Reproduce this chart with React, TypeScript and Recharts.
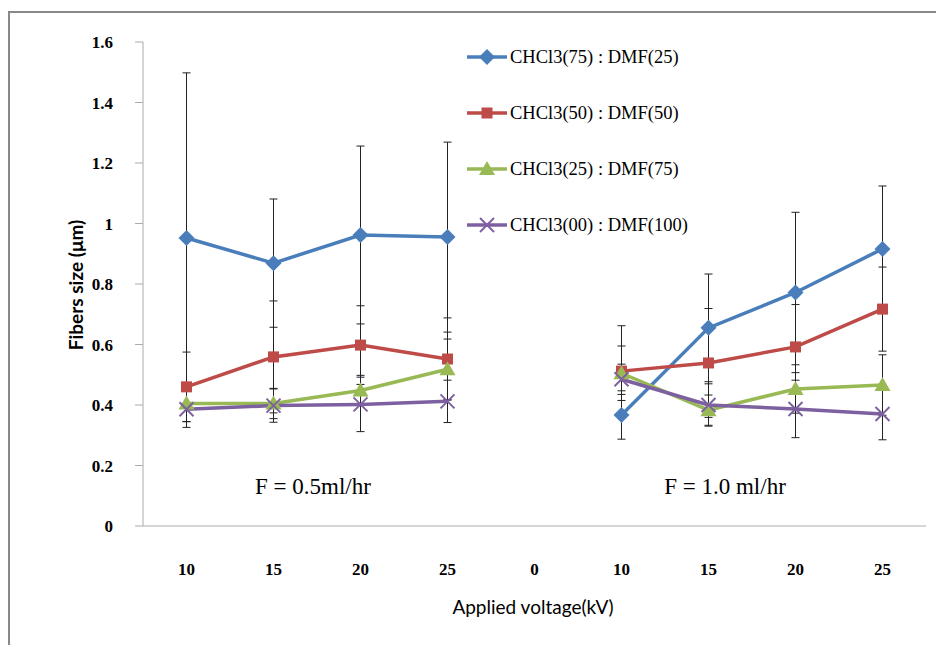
import React from 'react';
import { LineChart, Line, XAxis, YAxis, ErrorBar } from 'recharts';

const categories = ['10', '15', '20', '25', '0', '10', '15', '20', '25'];
const seriesNames = ['CHCl3(75) : DMF(25)', 'CHCl3(50) : DMF(50)', 'CHCl3(25) : DMF(75)', 'CHCl3(00) : DMF(100)'];
const blueVals = [0.952, 0.869, 0.962, 0.955, null, 0.367, 0.655, 0.772, 0.916];
const blueErr = [0.546, 0.212, 0.294, 0.314, null, 0.08, 0.178, 0.265, 0.208];
const redVals = [0.46, 0.559, 0.598, 0.552, null, 0.512, 0.539, 0.592, 0.717];
const redErr = [0.115, 0.185, 0.13, 0.136, null, 0.15, 0.18, 0.14, 0.139];
const greenVals = [0.405, 0.405, 0.448, 0.518, null, 0.505, 0.383, 0.453, 0.466];
const greenErr = [0.06, 0.05, 0.05, 0.1, null, 0.09, 0.05, 0.08, 0.1];
const purpleVals = [0.386, 0.398, 0.402, 0.412, null, 0.485, 0.4, 0.387, 0.37];
const purpleErr = [0.06, 0.055, 0.09, 0.07, null, 0.05, 0.07, 0.095, 0.085];
const yTicks = [0, 0.2, 0.4, 0.6, 0.8, 1, 1.2, 1.4, 1.6];
const annotations = ['F = 0.5ml/hr', 'F = 1.0 ml/hr'];

const COLORS = ['#4A7EBB', '#BE4B48', '#98B954', '#7D60A0'];
const SERIF = '"Liberation Serif", "Times New Roman", serif';
const SANS = 'Lato, "Liberation Sans", sans-serif';

const data = categories.map((c, i) => ({
  cat: c,
  blue: blueVals[i], blueErr: blueErr[i],
  red: redVals[i], redErr: redErr[i],
  green: greenVals[i], greenErr: greenErr[i],
  purple: purpleVals[i], purpleErr: purpleErr[i],
}));

function Marker({ kind, cx, cy, color }: any) {
  if (kind === 0) {
    const r = 8;
    return <polygon points={`${cx},${cy - r} ${cx + r},${cy} ${cx},${cy + r} ${cx - r},${cy}`} fill={color} />;
  }
  if (kind === 1) {
    return <rect x={cx - 5.5} y={cy - 5.5} width={11} height={11} fill={color} />;
  }
  if (kind === 2) {
    return <polygon points={`${cx},${cy - 8} ${cx + 8},${cy + 6} ${cx - 8},${cy + 6}`} fill={color} />;
  }
  const r = 7;
  return (
    <g stroke={color} strokeWidth={2}>
      <line x1={cx - r} y1={cy - r} x2={cx + r} y2={cy + r} />
      <line x1={cx - r} y1={cy + r} x2={cx + r} y2={cy - r} />
    </g>
  );
}

const makeDot = (kind: number) => (props: any) => {
  const { cx, cy, index, value } = props;
  if (cx == null || cy == null || value == null || Number.isNaN(cy)) return <g key={`d${kind}-${index}`} />;
  return (
    <g key={`d${kind}-${index}`}>
      <Marker kind={kind} cx={cx} cy={cy} color={COLORS[kind]} />
    </g>
  );
};

const XTick = (props: any) => {
  const { x, y, payload } = props;
  return (
    <text x={x} y={y + 49} textAnchor="middle" fontFamily={SERIF} fontWeight="bold" fontSize={17} fill="#000">
      {payload.value}
    </text>
  );
};

const YTick = (props: any) => {
  const { x, y, payload } = props;
  return (
    <text x={x} y={y + 6} textAnchor="end" fontFamily={SERIF} fontWeight="bold" fontSize={17} fill="#000">
      {payload.value}
    </text>
  );
};

const LegendBox = () => (
  <svg width={270} height={210} style={{ position: 'absolute', left: 465, top: 42 }}>
    {seriesNames.map((n, i) => {
      const cy = 15 + i * 56;
      return (
        <g key={n}>
          <line x1={2} y1={cy} x2={42} y2={cy} stroke={COLORS[i]} strokeWidth={3.5} />
          <Marker kind={i} cx={22} cy={cy} color={COLORS[i]} />
          <text x={45} y={cy + 6} fontFamily={SERIF} fontSize={18.5} fill="#000">{n}</text>
        </g>
      );
    })}
  </svg>
);

export default function App() {
  const keys = ['blue', 'red', 'green', 'purple'];
  return (
    <div style={{ position: 'absolute', left: 0, top: 0, width: 936, height: 645, background: '#fff' }}>
      <div style={{ position: 'absolute', left: 8, top: 11, width: 928, height: 634, boxSizing: 'border-box', borderLeft: '2px solid #888', borderTop: '2px solid #888' }} />
      <div style={{ position: 'absolute', left: 0, top: 0 }}>
        <LineChart width={936} height={645} data={data} margin={{ top: 42, right: 10, bottom: 89, left: 83 }}>
          <XAxis dataKey="cat" padding={{ left: 43.5, right: 43.5 }} stroke="#ABABAB" tickLine={false} tickSize={0} tickMargin={0} tick={<XTick />} height={30} interval={0} />
          <YAxis domain={[0, 1.6]} ticks={yTicks} stroke="#ABABAB" tickSize={8} tickMargin={22} tick={<YTick />} width={60} interval={0} />
          {keys.map((k, i) => (
            <Line
              key={k}
              dataKey={k}
              name={seriesNames[i]}
              stroke={COLORS[i]}
              strokeWidth={3.5}
              dot={makeDot(i)}
              activeDot={false}
              isAnimationActive={false}
              connectNulls={false}
            >
              <ErrorBar dataKey={`${k}Err`} width={4} strokeWidth={1} stroke="#222" direction="y" />
            </Line>
          ))}
        </LineChart>
      </div>
      <LegendBox />
      <div style={{ position: 'absolute', left: 75, top: 285, transform: 'translate(-50%, -50%) rotate(-90deg)', fontFamily: SANS, fontWeight: 'bold', fontSize: 19, whiteSpace: 'nowrap', color: '#000' }}>
        Fibers size (μm)
      </div>
      <div style={{ position: 'absolute', left: 533, top: 606, transform: 'translate(-50%, -50%)', fontFamily: SANS, fontSize: 19, whiteSpace: 'nowrap', color: '#000' }}>
        Applied voltage(kV)
      </div>
      <div style={{ position: 'absolute', left: 313, top: 487, transform: 'translate(-50%, -50%)', fontFamily: SERIF, fontSize: 23, whiteSpace: 'nowrap', color: '#000' }}>
        {annotations[0]}
      </div>
      <div style={{ position: 'absolute', left: 725, top: 487, transform: 'translate(-50%, -50%)', fontFamily: SERIF, fontSize: 23, whiteSpace: 'nowrap', color: '#000' }}>
        {annotations[1]}
      </div>
    </div>
  );
}
